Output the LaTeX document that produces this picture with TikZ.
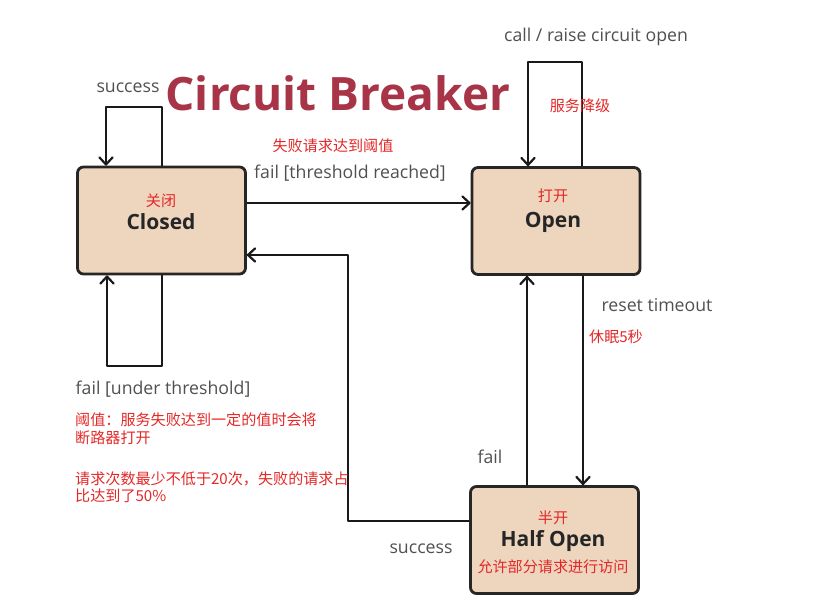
\documentclass[tikz,border=0pt]{standalone}
\usepackage{fontspec}
\setmainfont{Open Sans}
\newfontfamily\cjk{Noto Sans CJK SC}
\usetikzlibrary{arrows.meta}
\definecolor{boxfill}{RGB}{237,213,190}
\definecolor{labelgray}{RGB}{80,80,80}
\definecolor{notered}{RGB}{228,40,40}
\definecolor{titlered}{RGB}{168,52,72}

\begin{document}
\begin{tikzpicture}[x=1pt,y=-1pt,
  state/.style={draw=black!85, line width=2.8pt, rounded corners=6pt, fill=boxfill,
    minimum width=168pt, minimum height=107pt, inner sep=0pt},
  wire/.style={black!90, line width=2.2pt, line join=round},
  arr/.style={wire, -{Straight Barb[length=7pt,width=13pt,round]}},
  lbl/.style={text=labelgray, font=\fontsize{17.7}{21}\selectfont, inner sep=0pt},
  note/.style={text=notered, font=\cjk\fontsize{15.1}{18}\selectfont, inner sep=0pt},
  statename/.style={text=black!85, font=\bfseries\fontsize{21}{24}\selectfont, inner sep=0pt}]
  \useasboundingbox (0,0) rectangle (822,609);

  % states
  \node [state] (closed) at (161.5,220.5) {};
  \node [state] (open)   at (556,221) {};
  \node [state] (half)   at (554.5,540) {};

  \node [note]      (closedzh) at (161,201) {关闭};
  \node [statename] (closedtx) at (161,222) {Closed};
  \node [note]      (openzh)   at (553,196) {打开};
  \node [statename] (opentx)   at (553,222) {Open};
  \node [note]      (halfzh)   at (553,518) {半开};
  \node [statename] (halftx)   at (553,541) {Half Open};
  \node [note]      (halfnote) at (553,567) {允许部分请求进行访问};

  % title
  \node [text=titlered, font=\bfseries\fontsize{46}{52}\selectfont, inner sep=0pt] (title) at (338,93) {Circuit Breaker};

  % loop corners
  \coordinate (sa) at (106,107);
  \coordinate (sb) at (162,107);
  \coordinate (ua) at (107,366);
  \coordinate (ub) at (162,366);
  \coordinate (ca) at (528,62);
  \coordinate (cb) at (582,62);
  \coordinate (fy) at (0,203);
  \coordinate (hx) at (348,521);
  \coordinate (hy) at (348,255);
  \coordinate (fx) at (527,0);
  \coordinate (rx) at (583,0);

  % transitions
  \draw [arr] (sb |- closed.north) -- (sb) -- (sa) -- (sa |- closed.north);
  \draw [arr] (ub |- closed.south) -- (ub) -- (ua) -- (ua |- closed.south);
  \draw [arr] (closed.east |- fy) -- (open.west |- fy);
  \draw [arr] (cb |- open.north) -- (cb) -- (ca) -- (ca |- open.north);
  \draw [arr] (fx |- half.north) -- (fx |- open.south);
  \draw [arr] (rx |- open.south) -- (rx |- half.north);
  \draw [arr] (half.west |- hx) -- (hx) -- (hy) -- (closed.east |- hy);

  % labels
  \node [lbl]  (succtop)   at (128,88)  {success};
  \node [note] (threshzh)  at (333,146) {失败请求达到阈值};
  \node [lbl]  (failreach) at (350,173) {fail [threshold reached]};
  \node [lbl]  (callopen)  at (596,37)  {call / raise circuit open};
  \node [note] (degrade)   at (580,106) {服务降级};
  \node [lbl]  (reset)     at (657,305) {reset timeout};
  \node [note] (sleep)     at (616,337) {休眠5秒};
  \node [lbl]  (failunder) at (163,389) {fail [under threshold]};
  \node [note, anchor=west] (nline1) at (75,420) {阈值：服务失败达到一定的值时会将};
  \node [note, anchor=west] (nline2) at (75,438) {断路器打开};
  \node [note, anchor=west] (nline3) at (75,479) {请求次数最少不低于20次，失败的请求占};
  \node [note, anchor=west] (nline4) at (75,496) {比达到了50\%};
  \node [lbl]  (failhalf)  at (490,457) {fail};
  \node [lbl]  (succhalf)  at (421,549) {success};
\end{tikzpicture}
\end{document}
